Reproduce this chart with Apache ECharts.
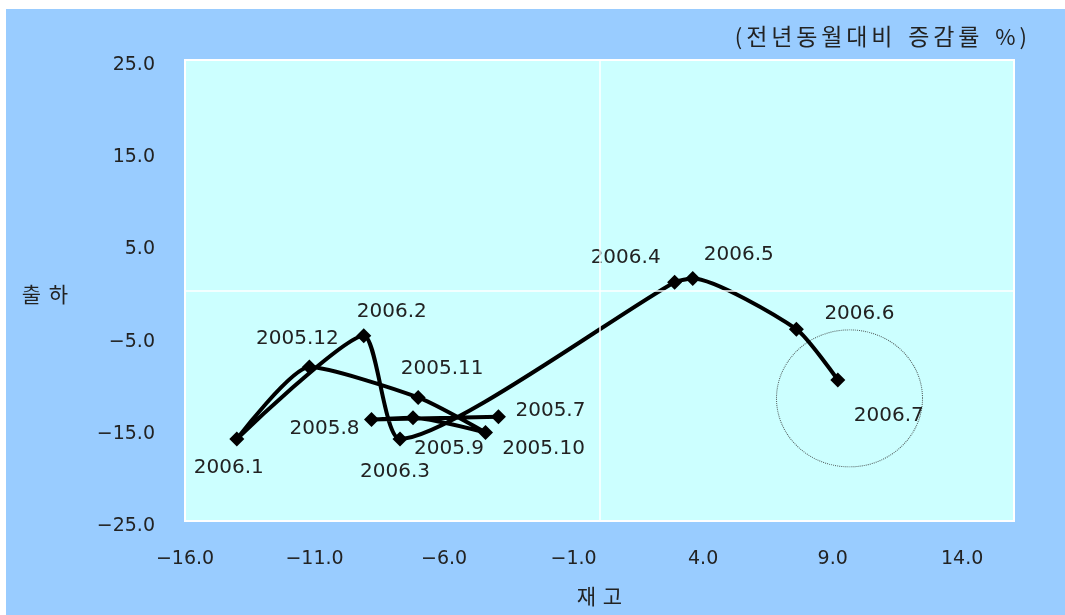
<!DOCTYPE html>
<html>
<head>
<meta charset="utf-8">
<script src="https://cdn.jsdelivr.net/npm/echarts@6/dist/echarts.min.js"></script>
<style>
  html, body { margin: 0; padding: 0; background: #ffffff; }
  #chart { position: absolute; left: 6px; top: 9px; width: 1059px; height: 606px; }
</style>
</head>
<body>
<div id="chart"></div>
<script>
// Monthly path: inventory (x) vs shipments (y), year-on-year change in %
const months = ['2005.7', '2005.8', '2005.9', '2005.10', '2005.11', '2005.12',
                '2006.1', '2006.2', '2006.3', '2006.4', '2006.5', '2006.6', '2006.7'];
const inventory = [-3.9, -8.8, -7.2, -4.4, -7.0, -11.2, -14.0, -9.1, -7.7, 2.9, 3.6, 7.6, 9.2];
const shipments = [-13.7, -14.0, -13.8, -15.4, -11.6, -8.3, -16.1, -4.9, -16.1, 0.9, 1.3, -4.2, -9.7];

// Point highlighted by the dotted ring (latest month area)
const ringCenter = [9.65, -11.7];

// Axis tick settings
const xTicks = { min: -16, max: 16, step: 5 };
const yTicks = { min: -25, max: 25, step: 10 };

// Texts
const unitNote = '(전년동월대비 증감률 %)';
const xName = '재고';
const yName = '출하';

// Where each month's label sits relative to its marker (pixels)
const labelOffsets = [
  [52, -6], [-47, 9], [36, 31], [58, 16], [24, -29], [-12, -28],
  [-8, 29], [28, -24], [-5, 33], [-49, -24], [46, -24], [63, -15], [51, 36]
];

const fmt = v => (v < 0 ? '\u2212' + Math.abs(v).toFixed(1) : v.toFixed(1));

// Spread Korean text into evenly pitched character cells
const isHangul = ch => /[\uAC00-\uD7A3]/.test(ch);
const spaced = s => s.split('').map(ch =>
  ch === ' ' ? '{s| }' : (isHangul(ch) ? '{c|' + ch + '}' : '{p|' + ch + '}')).join('');

const korean = size => ({ fontFamily: 'Noto Sans CJK KR', fontSize: size, fontWeight: 'normal', color: '#222' });

const pathData = months.map((m, i) => ({
  name: m,
  value: [inventory[i], shipments[i]],
  label: { offset: labelOffsets[i] }
}));

const chart = echarts.init(document.getElementById('chart'));
chart.setOption({
  backgroundColor: '#99CCFF',
  animation: false,
  title: {
    text: spaced(unitNote),
    right: 35,
    top: 11,
    textStyle: {
      fontWeight: 'normal',
      rich: {
        c: Object.assign({ width: 25, align: 'center' }, korean(23)),
        s: Object.assign({ width: 12 }, korean(23)),
        p: Object.assign({ padding: [0, 2] }, korean(22))
      }
    }
  },
  grid: {
    left: 179, top: 51, width: 829, height: 461,
    show: true,
    backgroundColor: '#CCFFFF',
    borderColor: '#ffffff',
    borderWidth: 2
  },
  xAxis: {
    type: 'value',
    min: xTicks.min, max: xTicks.max, interval: xTicks.step,
    name: spaced(xName),
    nameLocation: 'middle',
    nameGap: 65,
    nameTextStyle: {
      rich: { c: Object.assign({ width: 26, align: 'center' }, korean(21)) }
    },
    axisLine: { show: false },
    axisTick: { show: false },
    splitLine: { show: false },
    axisLabel: {
      margin: 29,
      showMaxLabel: false,
      formatter: fmt,
      fontFamily: 'DejaVu Sans', fontSize: 19, color: '#222'
    }
  },
  yAxis: {
    type: 'value',
    min: yTicks.min, max: yTicks.max, interval: yTicks.step,
    name: spaced(yName),
    nameLocation: 'middle',
    nameRotate: 0,
    nameGap: 113,
    nameTextStyle: {
      padding: [8, 0, 0, 0],
      rich: { c: Object.assign({ width: 27, align: 'center' }, korean(21)) }
    },
    axisLine: { show: false },
    axisTick: { show: false },
    splitLine: { show: false },
    axisLabel: {
      margin: 30,
      verticalAlign: 'top',
      lineHeight: 10,
      formatter: fmt,
      fontFamily: 'DejaVu Sans', fontSize: 19, color: '#222'
    }
  },
  series: [
    {
      type: 'scatter',
      silent: true,
      z: 1,
      data: [ringCenter],
      symbol: 'circle',
      symbolSize: [146, 137],
      itemStyle: {
        color: 'rgba(0,0,0,0)',
        borderColor: '#333',
        borderWidth: 1,
        borderType: 'dotted'
      },
      markLine: {
        silent: true,
        symbol: 'none',
        label: { show: false },
        lineStyle: { color: '#ffffff', width: 1.5, type: 'solid' },
        data: [{ xAxis: 0 }, { yAxis: 0 }]
      }
    },
    {
      type: 'line',
      z: 3,
      data: pathData,
      smooth: 0.2,
      symbol: 'diamond',
      symbolSize: 15,
      lineStyle: { color: '#000', width: 4 },
      itemStyle: { color: '#000' },
      label: {
        show: true,
        position: 'inside',
        formatter: p => p.name,
        fontFamily: 'DejaVu Sans',
        fontSize: 20,
        color: '#222'
      }
    }
  ]
});
</script>
</body>
</html>
